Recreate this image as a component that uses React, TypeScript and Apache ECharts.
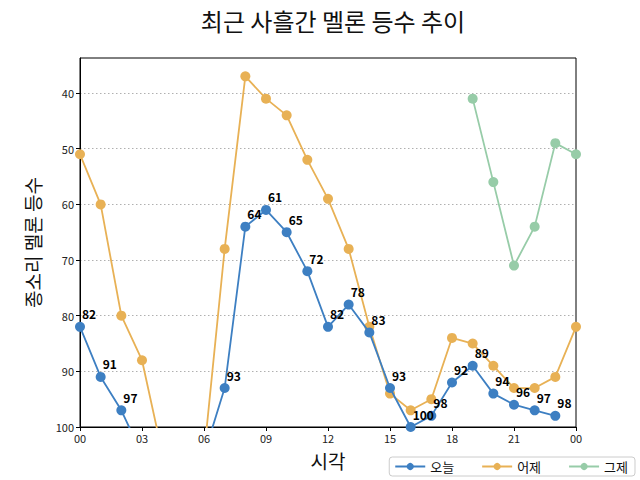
import React, { useEffect, useRef } from "react";
import * as echarts from "echarts";

const hours = Array.from({ length: 25 }, (_, i) => i);
const xTicks = ["00", "03", "06", "09", "12", "15", "18", "21", "00"];
const yTicks = [40, 50, 60, 70, 80, 90, 100];

// 105 = out of chart (below top 100)
const today = [82, 91, 97, 105, 105, 105, 105, 93, 64, 61, 65, 72, 82, 78, 83, 93, 100, 98, 92, 89, 94, 96, 97, 98];
const yesterday = [51, 60, 80, 88, 105, 105, 105, 68, 37, 41, 44, 52, 59, 68, 82, 94, 97, 95, 84, 85, 89, 93, 93, 91, 82];
const dayBefore: (number | null)[] = [null, null, null, null, null, null, null, null, null, null, null, null, null, null, null, null, null, null, null, 41, 56, 71, 64, 49, 51];

const seriesNames = ["오늘", "어제", "그제"];
const colors = ["#3d7fc2", "#e8b155", "#97cca8"];

const FONT = "'Noto Sans CJK KR', 'Noto Sans', sans-serif";

export default function App() {
  const ref = useRef<HTMLDivElement>(null);
  useEffect(() => {
    const chart = echarts.init(ref.current!, null, { renderer: "svg" });
    const mk = (arr: (number | null)[]) => arr.map((v, i) => [hours[i], v]);
    chart.setOption({
      animation: false,
      textStyle: { fontFamily: FONT },
      title: {
        text: "최근 사흘간 멜론 등수 추이",
        left: 328,
        textAlign: "center",
        top: 3,
        textStyle: { fontFamily: FONT, fontSize: 24, fontWeight: "normal", color: "#111" },
      },
      grid: {
        left: 80,
        right: 64,
        top: 58,
        bottom: 53,
        show: true,
        borderColor: "#000",
        borderWidth: 1,
        containLabel: false,
      },
      legend: {
        right: 5,
        bottom: 4,
        data: seriesNames,
        borderColor: "#ccc",
        borderWidth: 1,
        borderRadius: 3,
        padding: [3, 7, 3, 5],
        itemWidth: 30,
        itemHeight: 9,
        itemGap: 27,
        textStyle: { fontFamily: FONT, fontSize: 13, color: "#111" },
      },
      xAxis: {
        type: "value",
        min: 0,
        max: 24,
        interval: 3,
        name: "시각",
        nameLocation: "middle",
        nameGap: 24,
        nameTextStyle: { fontFamily: FONT, fontSize: 19, color: "#111" },
        axisLine: { show: true, onZero: false, lineStyle: { color: "#000" } },
        axisTick: { show: true, length: 4, lineStyle: { color: "#000" } },
        axisLabel: {
          fontFamily: FONT,
          fontSize: 11,
          color: "#222",
          margin: 5,
          formatter: (v: number) => xTicks[Math.round(v / 3)] ?? "",
        },
        splitLine: { show: false },
      },
      yAxis: {
        type: "value",
        inverse: true,
        min: 33.7,
        max: 100,
        name: "종소리 멜론 등수",
        nameLocation: "middle",
        nameGap: 38,
        nameTextStyle: { fontFamily: FONT, fontSize: 19, color: "#111" },
        axisLine: { show: true, lineStyle: { color: "#000" } },
        axisTick: { show: true, length: 4, lineStyle: { color: "#000" }, customValues: yTicks },
        axisLabel: {
          fontFamily: FONT,
          fontSize: 11,
          color: "#222",
          margin: 6,
          customValues: yTicks,
        },
        splitLine: { show: true, lineStyle: { color: "#b0b0b0", type: [1.5, 2.5], width: 1 } },
      },
      series: [
        {
          name: seriesNames[0],
          type: "line",
          data: mk(today),
          color: colors[0],
          symbol: "circle",
          symbolSize: 10,
          lineStyle: { width: 1.8 },
          clip: true,
          z: 4,
          label: {
            show: true,
            position: "top",
            align: "left",
            distance: 2,
            offset: [2, 0],
            fontFamily: FONT,
            fontSize: 12,
            fontWeight: "bold",
            color: "#000",
          },
        },
        {
          name: seriesNames[1],
          type: "line",
          data: mk(yesterday),
          color: colors[1],
          symbol: "circle",
          symbolSize: 10,
          lineStyle: { width: 1.8 },
          clip: true,
          z: 3,
        },
        {
          name: seriesNames[2],
          type: "line",
          data: mk(dayBefore),
          color: colors[2],
          symbol: "circle",
          symbolSize: 10,
          lineStyle: { width: 1.8 },
          clip: true,
          z: 2,
        },
      ],
    });
    return () => chart.dispose();
  }, []);
  return <div ref={ref} style={{ width: 640, height: 480, position: "absolute", left: 0, top: 0 }} />;
}
